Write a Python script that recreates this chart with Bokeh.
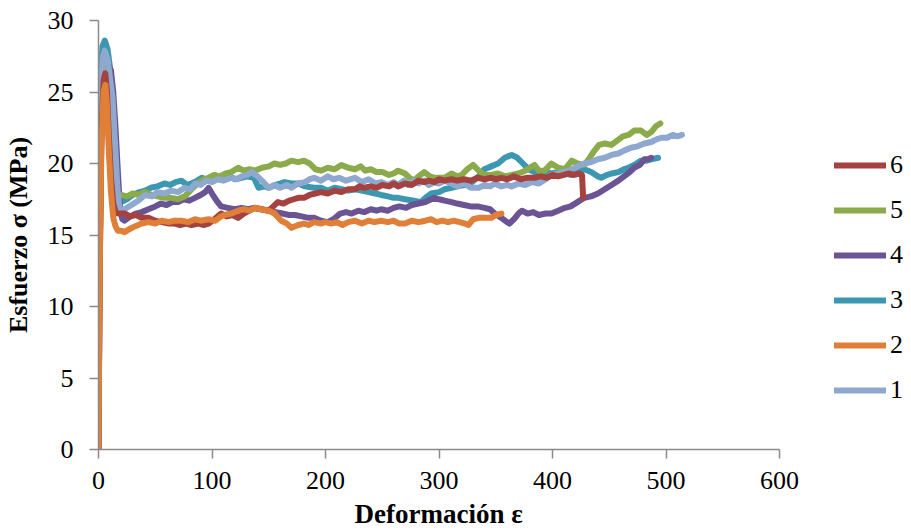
from bokeh.plotting import figure
from bokeh.models import Legend, LegendItem, Range1d, FixedTicker, Title
from bokeh.embed import file_html
from bokeh.resources import INLINE

# ---------------- data (deformation ε, stress σ MPa) ----------------
s1 = [(0,0),(0.8,15),(1.8,24),(3.5,27.3),(5.5,27.9),(8,27.3),(10.5,25.8),(12.5,24.5),(14.5,21.5),(16.5,18.5),(18.5,16.8),(20,16.7),(25,16.9),(29,17.1),(35,17.4),(41,17.8),(47,17.7),(52,18.0),(58,17.9),(64,18.1),(70,18.0),(76,18.3),(81,18.2),(85,18.6),(90,18.5),(95,18.8),(100,18.7),(105,18.9),(110,18.8),(117,19.0),(122,18.9),(126,19.1),(131,19.2),(135,19.4),(140,19.1),(144,18.8),(150,18.3),(155,18.5),(160,18.3),(166,18.5),(170,18.3),(176,18.6),(182,18.7),(186,18.9),(190,19.0),(196,18.8),(202,19.1),(207,18.9),(212,19.0),(218,18.8),(226,19.0),(232,18.7),(238,18.9),(244,18.6),(249,18.7),(255,18.5),(260,18.7),(264,18.5),(269,18.8),(273,18.5),(278,18.8),(282,18.6),(287,18.8),(291,18.5),(296,18.7),(300,18.6),(305,18.8),(311,18.6),(316,18.4),(322,18.6),(328,18.3),(335,18.3),(340,18.5),(345,18.4),(349,18.6),(355,18.4),(360,18.5),(364,18.4),(370,18.6),(376,18.5),(382,18.7),(388,18.6),(394,18.9),(399,19.2),(405,19.3),(410,19.4),(414,19.5),(420,19.7),(425,19.9),(428,20.0),(434,20.1),(440,20.3),(446,20.4),(452,20.6),(458,20.7),(463,20.9),(469,21.1),(475,21.2),(481,21.4),(487,21.5),(492,21.7),(496,21.8),(501,21.8),(506,22.0),(510,21.9),(514,22.0)]

s2 = [(0,0),(1,12),(2.5,21),(4.5,25.0),(6,25.5),(7.5,24),(9,21),(11,18),(13,16.2),(15,15.6),(17,15.3),(20,15.3),(23,15.2),(27,15.4),(32,15.6),(38,15.8),(44,15.9),(50,15.8),(56,16.0),(62,15.9),(67,16.0),(73,16.0),(79,15.9),(85,16.1),(90,16.0),(97,16.1),(103,16.0),(108,16.3),(111,16.4),(117,16.5),(123,16.7),(128,16.8),(133,16.7),(138,16.9),(143,16.8),(150,16.7),(155,16.5),(161,16.0),(166,15.8),(170,15.5),(176,15.7),(181,15.8),(185,15.7),(190,15.9),(196,15.8),(200,15.9),(205,15.8),(210,15.9),(215,15.7),(220,15.9),(226,16.0),(232,15.8),(238,16.0),(243,15.9),(249,16.0),(255,15.9),(260,16.0),(265,15.8),(270,15.8),(276,16.0),(282,15.9),(288,16.0),(293,16.1),(298,15.9),(303,16.0),(308,15.9),(313,16.0),(318,15.9),(323,15.8),(326,15.7),(330,16.1),(335,16.2),(340,16.2),(346,16.2),(350,16.4),(355,16.5)]

s3 = [(0,0),(0.8,15),(1.8,25),(3.5,28.2),(5.5,28.6),(8,28.0),(10.5,26.5),(12.5,24.5),(14.5,21),(16.5,18),(18.5,17.3),(20,17.3),(25,17.5),(30,17.8),(36,18.0),(41,18.1),(46,18.3),(52,18.4),(58,18.6),(63,18.5),(68,18.7),(73,18.8),(78,18.5),(82,18.6),(87,18.8),(91,19.0),(96,18.8),(100,19.0),(106,18.9),(111,18.9),(116,19.1),(120,18.9),(126,19.0),(131,19.1),(137,19.0),(141,18.3),(146,18.4),(150,18.3),(156,18.5),(160,18.6),(164,18.7),(170,18.6),(176,18.6),(182,18.4),(190,18.3),(196,18.3),(202,18.1),(208,18.3),(214,18.2),(220,18.1),(226,18.2),(232,18.1),(238,18.0),(244,17.9),(249,17.8),(255,17.7),(260,17.6),(264,17.6),(270,17.5),(278,17.4),(284,17.3),(288,17.6),(293,17.9),(300,18.0),(305,18.2),(311,18.3),(316,18.4),(322,18.5),(329,18.7),(335,19.1),(340,19.6),(346,19.8),(352,20.0),(358,20.4),(364,20.6),(369,20.4),(374,20.0),(379,19.6),(384,19.4),(388,19.3),(394,19.4),(399,19.3),(405,19.4),(411,19.3),(417,19.2),(422,19.4),(428,19.6),(434,19.4),(440,19.1),(443,19.0),(448,19.2),(452,19.3),(458,19.4),(463,19.6),(467,19.7),(472,19.9),(478,20.2),(483,20.2),(488,20.3),(493,20.4)]

s4 = [(0,0),(1,12),(2.5,22),(5,26.5),(8,27.0),(11,26.5),(13,25),(15,22.5),(17,19.5),(19,16.8),(21,16.1),(23,16.0),(28,16.3),(33,16.5),(38,16.6),(44,16.8),(50,17.0),(55,17.2),(60,17.1),(65,17.3),(70,17.3),(75,17.5),(80,17.4),(85,17.6),(90,17.8),(94,18.0),(97,18.3),(100,17.9),(104,17.4),(108,17.0),(114,16.9),(120,16.8),(126,16.9),(132,16.8),(137,16.9),(143,16.8),(150,16.7),(156,16.6),(162,16.5),(168,16.4),(173,16.4),(179,16.3),(185,16.2),(190,16.2),(196,16.0),(202,15.9),(207,16.1),(213,16.5),(218,16.6),(223,16.5),(229,16.7),(234,16.6),(240,16.8),(245,16.7),(249,16.8),(255,16.7),(260,16.9),(265,17.0),(271,16.9),(276,17.1),(282,17.2),(288,17.3),(293,17.5),(296,17.6),(300,17.5),(305,17.4),(311,17.3),(316,17.2),(322,17.1),(328,17.0),(334,17.0),(340,16.9),(345,16.8),(349,16.5),(355,16.2),(360,15.9),(362,15.8),(366,16.1),(370,16.5),(373,16.7),(378,16.5),(383,16.6),(388,16.4),(394,16.5),(399,16.5),(405,16.7),(411,16.9),(416,17.0),(422,17.3),(428,17.6),(434,17.7),(440,17.9),(446,18.2),(452,18.5),(458,18.8),(463,19.1),(468,19.4),(472,19.7),(477,19.9),(481,20.3),(484,20.3),(487,20.4)]

s5 = [(0,0),(1,13),(2.5,23),(4.5,26.8),(6,27.0),(8,26.3),(10,24.5),(12,22),(14,19.5),(16,18),(18,17.8),(20,17.8),(25,17.7),(30,17.9),(35,17.8),(41,18.0),(47,17.8),(52,17.7),(58,17.6),(64,17.6),(70,17.5),(76,17.7),(82,18.2),(87,18.6),(93,18.9),(97,19.0),(102,19.2),(107,19.1),(112,19.3),(117,19.4),(123,19.7),(128,19.5),(133,19.6),(138,19.5),(144,19.7),(150,19.8),(155,20.0),(160,19.9),(165,20.0),(170,20.2),(176,20.1),(181,20.2),(186,20.0),(191,19.6),(196,19.5),(202,19.7),(208,19.6),(214,19.9),(220,19.7),(226,19.6),(231,19.8),(235,19.5),(240,19.6),(245,19.4),(250,19.4),(256,19.2),(260,19.3),(264,19.5),(270,19.3),(274,19.0),(278,18.8),(282,19.1),(287,19.4),(292,19.1),(296,19.0),(300,19.0),(305,19.0),(311,19.3),(316,19.1),(320,19.2),(325,19.6),(330,19.9),(335,19.5),(340,19.2),(346,19.2),(352,19.3),(358,19.1),(364,19.2),(370,19.3),(376,19.5),(380,19.7),(384,19.9),(388,19.5),(393,19.5),(399,20.0),(405,19.7),(411,19.6),(417,20.2),(422,20.0),(428,19.9),(432,20.3),(436,20.8),(441,21.3),(446,21.4),(452,21.3),(457,21.6),(462,21.9),(467,22.0),(472,22.3),(478,22.3),(483,22.0),(487,22.2),(491,22.6),(495,22.8)]

s6 = [(0,0),(1,13),(2.5,22),(4.5,25.8),(6,26.3),(7.5,25),(9,22),(11,19),(13,17.2),(15,16.6),(17,16.5),(20,16.5),(23,16.5),(28,16.3),(33,16.4),(38,16.2),(44,16.2),(50,16.0),(56,15.9),(62,15.8),(67,15.8),(72,15.7),(77,15.8),(82,15.7),(88,15.8),(93,15.7),(97,15.8),(102,16.1),(108,16.5),(113,16.3),(118,16.4),(123,16.2),(128,16.5),(133,16.7),(138,16.9),(144,16.8),(150,16.7),(154,17.0),(158,17.3),(163,17.2),(168,17.4),(172,17.5),(176,17.6),(181,17.6),(186,17.8),(191,17.9),(196,18.0),(202,17.9),(208,18.1),(214,18.0),(220,18.2),(226,18.2),(230,18.4),(234,18.3),(240,18.4),(245,18.3),(250,18.5),(256,18.4),(260,18.6),(264,18.4),(270,18.6),(276,18.5),(282,18.8),(287,18.7),(291,18.8),(296,18.7),(300,18.9),(305,18.8),(311,18.9),(316,18.8),(322,18.9),(328,18.8),(334,19.0),(340,18.9),(346,19.0),(350,18.9),(355,19.0),(360,18.9),(366,19.1),(372,18.9),(378,19.0),(384,19.0),(390,19.1),(395,19.0),(400,19.2),(405,19.1),(410,19.2),(414,19.3),(419,19.2),(424,19.3),(426,19.2),(427,17.6)]

series_names = ["1", "2", "3", "4", "5", "6"]
series_colors = ["#8EA8CF", "#E07F37", "#3C97B0", "#6B5493", "#8BAA4A", "#A5423F"]
x_ticks = [0, 100, 200, 300, 400, 500, 600]
y_ticks = [0, 5, 10, 15, 20, 25, 30]
x_axis_max = 600
y_axis_max = 30
x_title = "Deformación ε"
y_title = "Esfuerzo σ (MPa)"

SERIF = "Liberation Serif"

# frame: axis part 681 px wide, extended to the right edge so the legend can sit inside it
AXIS_W = 681
FRAME_W = 806
x_end = x_axis_max * FRAME_W / AXIS_W

p = figure(frame_width=FRAME_W, frame_height=429, output_backend="svg", toolbar_location=None,
           x_range=Range1d(0, x_end), y_range=Range1d(0, y_axis_max),
           min_border_left=89, min_border_right=0,
           min_border_top=20, min_border_bottom=82)
p.outline_line_color = None
p.xgrid.visible = False
p.ygrid.visible = False
p.background_fill_color = "white"
p.border_fill_color = "white"

for ax, ticks in ((p.xaxis[0], x_ticks), (p.yaxis[0], y_ticks)):
    ax.ticker = FixedTicker(ticks=ticks)
    ax.axis_line_color = "#8A8A8A"
    ax.axis_line_width = 1.5
    ax.major_tick_line_color = "#8A8A8A"
    ax.major_tick_line_width = 1.5
    ax.major_tick_in = 0
    ax.major_tick_out = 9
    ax.minor_tick_line_color = None
    ax.major_label_text_font = SERIF
    ax.major_label_text_font_size = "26px"
    ax.major_label_text_color = "black"
    ax.axis_label_text_font = SERIF
    ax.axis_label_text_font_style = "bold"
    ax.axis_label_text_color = "black"

p.xaxis[0].bounds = (0, x_axis_max)
p.xaxis[0].major_label_standoff = 13
p.yaxis[0].axis_label = y_title
p.yaxis[0].axis_label_text_font_size = "26px"
p.yaxis[0].major_label_standoff = 16
p.yaxis[0].axis_label_standoff = 12

# x-axis title centred under the bounded axis (not under the extended frame)
xt = Title(text=x_title, align="left", offset=256, standoff=10,
           text_font=SERIF, text_font_size="27px", text_font_style="bold",
           text_color="black")
p.add_layout(xt, "below")

all_series = [s1, s2, s3, s4, s5, s6]
renderers = {}
draw_order = [2, 3, 4, 0, 5, 1]  # indices into all_series (bottom to top)
for i in draw_order:
    xs = [a for a, b in all_series[i]]
    ys = [b for a, b in all_series[i]]
    r = p.line(xs, ys, line_color=series_colors[i], line_width=6,
               line_cap="round", line_join="round")
    renderers[i] = r

items = [LegendItem(label=series_names[i], renderers=[renderers[i]]) for i in [5, 4, 3, 2, 1, 0]]
legend = Legend(items=items, location=(736, 44), orientation="vertical",
                background_fill_alpha=0, border_line_alpha=0,
                padding=0, margin=0, spacing=15,
                glyph_width=52, glyph_height=26, label_height=26,
                label_standoff=4,
                label_text_font=SERIF, label_text_font_size="26px",
                label_text_color="black")
p.add_layout(legend, "center")

open("out.html", "w").write(file_html(p, INLINE))
